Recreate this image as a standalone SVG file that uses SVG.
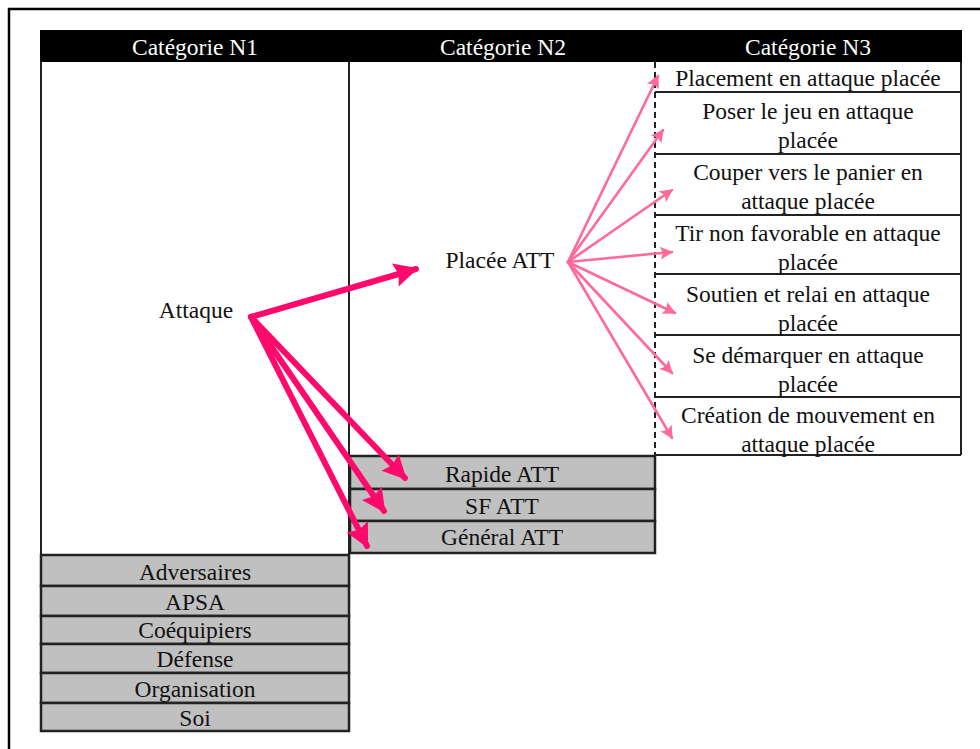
<svg xmlns="http://www.w3.org/2000/svg" width="980" height="749" viewBox="0 0 980 749">
<style>
text{font-family:"Liberation Serif","Times New Roman",serif;font-size:23.5px;fill:#111;text-anchor:middle}
.hd{fill:#fff}
.gray{fill:#c0c0c0;stroke:#222;stroke-width:2.5}
.line{stroke:#222;stroke-width:2;fill:none}
.thick{stroke:#ff0a6c;stroke-width:6;fill:none;stroke-linecap:round}
.thin{stroke:#ff6a99;stroke-width:2.6;fill:none;stroke-linecap:round}
</style>
<defs>
<marker id="hBig" viewBox="0 0 10 10" refX="9" refY="5" markerWidth="4.5" markerHeight="4" orient="auto" markerUnits="strokeWidth">
<path d="M0,0 L10,5 L0,10 L1.5,5 Z" fill="#ff0a6c"/>
</marker>
<marker id="hSmall" viewBox="0 0 10 10" refX="9" refY="5" markerWidth="6" markerHeight="5" orient="auto" markerUnits="strokeWidth">
<path d="M0,0 L10,5 L0,10 L2,5 Z" fill="#ff6a99"/>
</marker>
</defs>
<rect x="0" y="0" width="980" height="749" fill="#fff"/>
<path d="M9,749 V9 H980" fill="none" stroke="#000" stroke-width="2.5"/>

<g id="header">
<rect x="40" y="30" width="922" height="32" fill="#000"/>
<text class="hd" x="195" y="55">Catégorie N1</text>
<text class="hd" x="503" y="55">Catégorie N2</text>
<text class="hd" x="808" y="55">Catégorie N3</text>
</g>

<g id="frame">
<path class="line" d="M41,62 V731 M349,62 V731"/>
<line x1="655" y1="62" x2="655" y2="455" stroke="#222" stroke-width="2" stroke-dasharray="6,4"/>
<path class="line" d="M961,62 V455"/>
</g>

<g id="n1-attaque"><text x="196" y="318">Attaque</text></g>
<g id="n2-placee"><text x="500" y="268">Placée ATT</text></g>

<g id="n3-rows">
<path class="line" d="M655,92 H961 M655,154 H961 M655,215 H961 M655,274 H961 M655,335 H961 M655,397 H961 M655,455 H961"/>
</g>
<g id="n3-1"><text x="808" y="86">Placement en attaque placée</text></g>
<g id="n3-2"><text x="808" y="119">Poser le jeu en attaque</text><text x="808" y="148">placée</text></g>
<g id="n3-3"><text x="808" y="180">Couper vers le panier en</text><text x="808" y="209">attaque placée</text></g>
<g id="n3-4"><text x="808" y="241">Tir non favorable en attaque</text><text x="808" y="270">placée</text></g>
<g id="n3-5"><text x="808" y="302">Soutien et relai en attaque</text><text x="808" y="331">placée</text></g>
<g id="n3-6"><text x="808" y="363">Se démarquer en attaque</text><text x="808" y="392">placée</text></g>
<g id="n3-7"><text x="808" y="423">Création de mouvement en</text><text x="808" y="452">attaque placée</text></g>

<g id="n2-rapide"><rect class="gray" x="350" y="456" width="305" height="33"/><text x="502" y="482">Rapide ATT</text></g>
<g id="n2-sf"><rect class="gray" x="350" y="489" width="305" height="32"/><text x="502" y="514">SF ATT</text></g>
<g id="n2-general"><rect class="gray" x="350" y="521" width="305" height="32"/><text x="502" y="545">Général ATT</text></g>

<g id="n1-adversaires"><rect class="gray" x="41" y="555" width="308" height="31"/><text x="195" y="580">Adversaires</text></g>
<g id="n1-apsa"><rect class="gray" x="41" y="586" width="308" height="30"/><text x="195" y="610">APSA</text></g>
<g id="n1-coequipiers"><rect class="gray" x="41" y="616" width="308" height="28"/><text x="195" y="638">Coéquipiers</text></g>
<g id="n1-defense"><rect class="gray" x="41" y="644" width="308" height="29"/><text x="195" y="667">Défense</text></g>
<g id="n1-organisation"><rect class="gray" x="41" y="673" width="308" height="30"/><text x="195" y="697">Organisation</text></g>
<g id="n1-soi"><rect class="gray" x="41" y="703" width="308" height="28"/><text x="195" y="726">Soi</text></g>

<g id="connectors">
<line class="thick" x1="251" y1="317" x2="416" y2="269" marker-end="url(#hBig)"/>
<line class="thick" x1="251" y1="317" x2="405" y2="478" marker-end="url(#hBig)"/>
<line class="thick" x1="251" y1="317" x2="384" y2="511" marker-end="url(#hBig)"/>
<line class="thick" x1="251" y1="317" x2="367" y2="546" marker-end="url(#hBig)"/>
<line class="thin" x1="568" y1="262" x2="658" y2="76" marker-end="url(#hSmall)"/>
<line class="thin" x1="568" y1="262" x2="663" y2="130" marker-end="url(#hSmall)"/>
<line class="thin" x1="568" y1="262" x2="672" y2="190" marker-end="url(#hSmall)"/>
<line class="thin" x1="568" y1="262" x2="672" y2="252" marker-end="url(#hSmall)"/>
<line class="thin" x1="568" y1="262" x2="675" y2="313" marker-end="url(#hSmall)"/>
<line class="thin" x1="568" y1="262" x2="672" y2="373" marker-end="url(#hSmall)"/>
<line class="thin" x1="568" y1="262" x2="672" y2="438" marker-end="url(#hSmall)"/>
</g>
</svg>
